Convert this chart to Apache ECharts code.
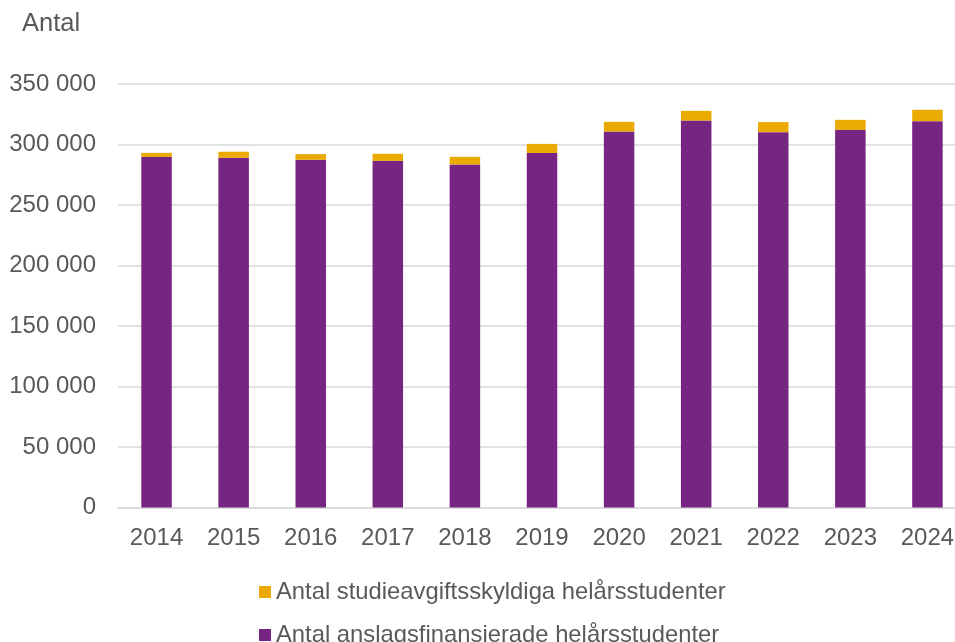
<!DOCTYPE html>
<html>
<head>
<meta charset="utf-8">
<script src="https://cdn.jsdelivr.net/npm/echarts@6/dist/echarts.min.js"></script>
<style>
  html, body { margin: 0; padding: 0; background: #fff; }
  #chart { width: 955px; height: 642px; }
</style>
</head>
<body>
<div id="chart"></div>
<script>
const years = ['2014', '2015', '2016', '2017', '2018', '2019', '2020', '2021', '2022', '2023', '2024'];
// anslagsfinansierade (bottom)
const anslag = [289800, 289000, 287400, 286500, 283500, 293000, 310700, 319800, 310200, 312100, 319300];
// studieavgiftsskyldiga (top)
const avgift = [3300, 5000, 4700, 5800, 6300, 7500, 8000, 8000, 8300, 8300, 9400];

const nameAvgift = 'Antal studieavgiftsskyldiga helårsstudenter';
const nameAnslag = 'Antal anslagsfinansierade helårsstudenter';
const textColor = '#595959';
const font = 'Liberation Sans, Arial, sans-serif';

const legendText = { fontSize: 23.8, color: textColor, fontFamily: font, padding: [0, 0, 0, 0] };

const myChart = echarts.init(document.getElementById('chart'));
myChart.setOption({
  animation: false,
  textStyle: { fontFamily: font },
  grid: { left: 118, top: 84, width: 848, height: 423.5, outerBoundsMode: 'none', containLabel: false },
  graphic: [{
    type: 'text',
    left: 22,
    top: 11,
    style: { text: 'Antal', fontSize: 25.5, fill: textColor, fontFamily: font }
  }],
  legend: [
    {
      left: 254, top: 575, itemWidth: 12, itemHeight: 12, icon: 'rect',
      data: [nameAvgift], textStyle: legendText
    },
    {
      left: 254, top: 618, itemWidth: 12, itemHeight: 12, icon: 'rect',
      data: [nameAnslag], textStyle: legendText
    }
  ],
  xAxis: {
    type: 'category',
    data: years,
    axisTick: { show: false },
    axisLine: { lineStyle: { color: '#d9d9d9', width: 1.5 } },
    axisLabel: { fontSize: 24, color: textColor, margin: 19 }
  },
  yAxis: {
    type: 'value',
    min: 0,
    max: 350000,
    interval: 50000,
    axisLine: { show: false },
    axisTick: { show: false },
    splitLine: { lineStyle: { color: '#d9d9d9', width: 1.5 } },
    axisLabel: {
      fontSize: 24,
      color: textColor,
      margin: 22,
      formatter: (v) => v === 0 ? '0' : String(v).replace(/\B(?=(\d{3})+(?!\d))/g, ' ')
    }
  },
  series: [
    {
      name: nameAnslag,
      type: 'bar',
      stack: 'total',
      barWidth: 30.5,
      itemStyle: { color: '#772583' },
      data: anslag
    },
    {
      name: nameAvgift,
      type: 'bar',
      stack: 'total',
      barWidth: 30.5,
      itemStyle: { color: '#eaaa00' },
      data: avgift
    }
  ]
});
</script>
</body>
</html>
